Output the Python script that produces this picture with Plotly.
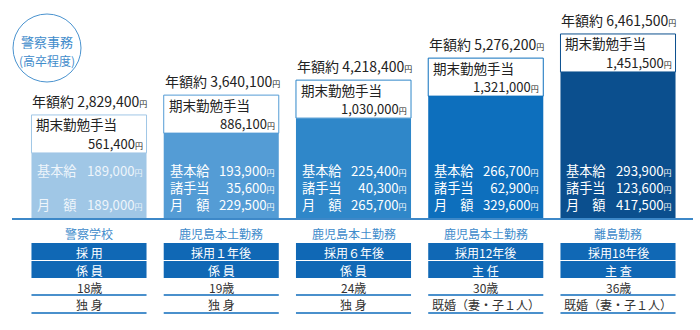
import numpy as np
import plotly.graph_objects as go

# ---------------- data ----------------
categories = ["警察学校", "鹿児島本土勤務", "鹿児島本土勤務", "鹿児島本土勤務", "離島勤務"]
hire_stage = ["採 用", "採用１年後", "採用６年後", "採用12年後", "採用18年後"]
post = ["係 員", "係 員", "係 員", "主 任", "主 査"]
age = ["18歳", "19歳", "24歳", "30歳", "36歳"]
family = ["独 身", "独 身", "独 身", "既婚（妻・子１人）", "既婚（妻・子１人）"]

annual_total = [2829400, 3640100, 4218400, 5276200, 6461500]
term_end_bonus = [561400, 886100, 1030000, 1321000, 1451500]
base_salary = [189000, 193900, 225400, 266700, 293900]
allowances = [None, 35600, 40300, 62900, 123600]
monthly_total = [189000, 229500, 265700, 329600, 417500]

bar_colors = ["#a0c7e6", "#549cd5", "#2f87c9", "#0d6fbd", "#0b4f8e"]

# ---------------- layout constants ----------------
W, H = 700, 330
ML, MR, MT, MB = 12, 7, 0, 112
PW, PH = W - ML - MR, H - MT - MB
BAR_W = 0.87
HALF = BAR_W / 2
FONT = "Noto Sans CJK JP"
BLUE = "#3d88c8"
TABLE_BLUE = "#1068b5"
TXT = "#222222"
NB = "\u00a0"

def px2paper(px, py):
    return (px - ML) / PW, 1 - (py - MT) / PH

def yen(v, size=8):
    return f"{v:,}<span style='font-size:{size}px'>円</span>"

xs = list(range(len(categories)))

fig = go.Figure()
fig.add_trace(go.Bar(
    x=xs, y=monthly_total, width=BAR_W,
    marker=dict(color=bar_colors, line=dict(width=0)),
    hoverinfo="skip",
))

shapes = []
ann = []

for i in xs:
    top = np.log10(monthly_total[i])
    col = bar_colors[i]
    # bonus box anchored on bar top
    shapes.append(dict(type="rect", xref="x", yref="y", ysizemode="pixel",
                       yanchor=monthly_total[i], y0=0, y1=38,
                       x0=i - HALF, x1=i + HALF,
                       fillcolor="white", line=dict(color=col, width=1), layer="above"))
    ann.append(dict(x=i - HALF, y=top, xref="x", yref="y", xanchor="left", yanchor="middle",
                    xshift=4, yshift=28.5, showarrow=False, borderpad=0,
                    text="期末勤勉手当", font=dict(size=13.5, color=TXT)))
    ann.append(dict(x=i + HALF, y=top, xref="x", yref="y", xanchor="right", yanchor="middle",
                    xshift=-3, yshift=9.5, showarrow=False, borderpad=0,
                    text=yen(term_end_bonus[i]), font=dict(size=13, color=TXT)))
    ann.append(dict(x=i - HALF, y=top, xref="x", yref="y", xanchor="left", yanchor="middle",
                    xshift=-1, yshift=52, showarrow=False,
                    text="年額約 " + yen(annual_total[i]), font=dict(size=14, color=TXT)))

    # lines inside the bar, anchored to baseline (one block per column)
    if allowances[i] is None:
        labels = "基本給<br>" + NB + "<br>月　額"
        values = yen(base_salary[i]) + "<br>" + NB + "<br>" + yen(monthly_total[i])
    else:
        labels = "基本給<br>諸手当<br>月　額"
        values = "<br>".join([yen(base_salary[i]), yen(allowances[i]), yen(monthly_total[i])])
    txtcol = "#eef5fb" if i == 0 else "white"
    ann.append(dict(x=i - HALF, y=0, xref="x", yref="paper", xanchor="left", yanchor="middle",
                    xshift=4, yshift=31, showarrow=False, align="left",
                    text=labels, font=dict(size=13.2, color=txtcol)))
    ann.append(dict(x=i + HALF, y=0, xref="x", yref="paper", xanchor="right", yanchor="middle",
                    xshift=-2, yshift=31, showarrow=False, align="right",
                    text=values, font=dict(size=13.2, color=txtcol)))

    # table below
    ann.append(dict(x=i, y=0, xref="x", yref="paper", xanchor="center", yanchor="middle",
                    yshift=-15, showarrow=False, text=categories[i],
                    font=dict(size=12, color="#3f8ccb")))
    for (y0, y1) in [(-25, -42), (-43, -60)]:
        shapes.append(dict(type="rect", xref="x", yref="paper", ysizemode="pixel",
                           yanchor=0, y0=y0, y1=y1, x0=i - HALF, x1=i + HALF,
                           fillcolor=TABLE_BLUE, line=dict(width=0)))
    ann.append(dict(x=i, y=0, xref="x", yref="paper", xanchor="center", yanchor="middle",
                    yshift=-34, showarrow=False, text=hire_stage[i],
                    font=dict(size=12, color="white")))
    ann.append(dict(x=i, y=0, xref="x", yref="paper", xanchor="center", yanchor="middle",
                    yshift=-52, showarrow=False, text=post[i],
                    font=dict(size=12, color="white")))
    ann.append(dict(x=i, y=0, xref="x", yref="paper", xanchor="center", yanchor="middle",
                    yshift=-69, showarrow=False, text=age[i],
                    font=dict(size=12, color="#333333")))
    ann.append(dict(x=i, y=0, xref="x", yref="paper", xanchor="center", yanchor="middle",
                    yshift=-86, showarrow=False, text=family[i],
                    font=dict(size=12, color="#333333")))
    for yl in (-77, -95):
        shapes.append(dict(type="line", xref="x", yref="paper", ysizemode="pixel",
                           yanchor=0, y0=yl, y1=yl, x0=i - HALF, x1=i + HALF,
                           line=dict(color="#4a90cc", width=2)))

# badge (decoration, pixel position converted to paper)
cx0, cy0 = px2paper(13, 82)
cx1, cy1 = px2paper(81, 14)
shapes.append(dict(type="circle", xref="paper", yref="paper",
                   x0=cx0, x1=cx1, y0=cy0, y1=cy1,
                   line=dict(color="#4a93cf", width=1), layer="below"))
tx, ty = px2paper(47, 42)
ann.append(dict(x=tx, y=ty, xref="paper", yref="paper", xanchor="center", yanchor="middle",
                showarrow=False, text="警察事務", font=dict(size=13, color="#3f8ccb")))
tx, ty = px2paper(47, 60)
ann.append(dict(x=tx, y=ty, xref="paper", yref="paper", xanchor="center", yanchor="middle",
                showarrow=False, text="(高卒程度)", font=dict(size=12, color="#3f8ccb")))

x_lo = (ML - 89) / 132.25
x_hi = (W - MR - 89) / 132.25

fig.update_layout(
    width=W, height=H,
    margin=dict(l=ML, r=MR, t=MT, b=MB),
    paper_bgcolor="white", plot_bgcolor="white",
    font=dict(family=FONT),
    showlegend=False,
    shapes=shapes, annotations=ann,
    xaxis=dict(range=[x_lo, x_hi], showticklabels=False, ticks="", showgrid=False,
               zeroline=False, showline=True, linecolor=BLUE, linewidth=2, fixedrange=True),
    yaxis=dict(type="log", range=[5.0, 5.0 + PH / 235.3], visible=False, showgrid=False,
               fixedrange=True),
)

fig.write_html("out.html")
